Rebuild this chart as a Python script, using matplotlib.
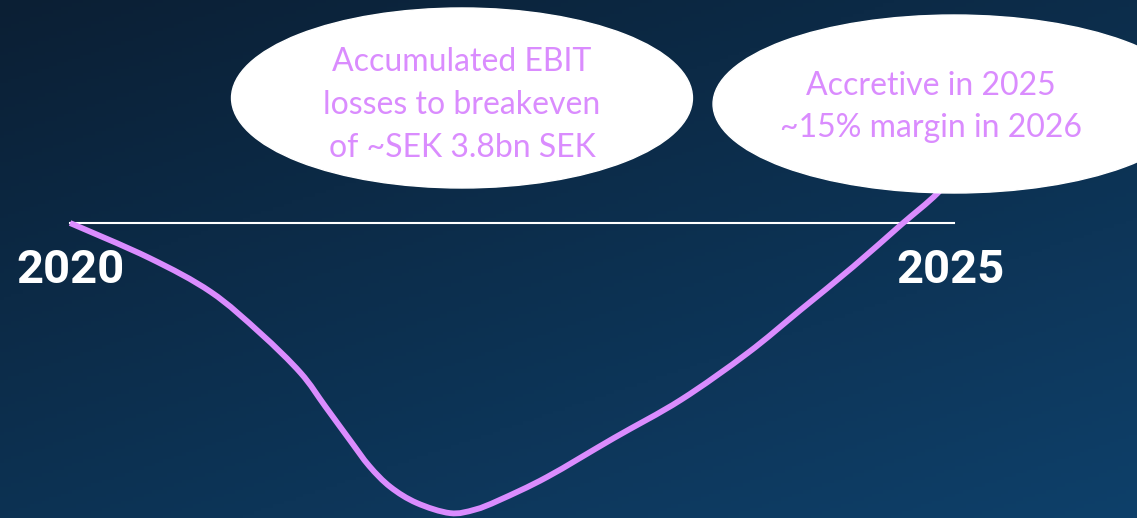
import matplotlib.pyplot as plt
import numpy as np
from matplotlib.patches import Ellipse, PathPatch
from matplotlib.path import Path

# EBIT path (years, arbitrary units, 0 = breakeven)
years = [2020.00, 2020.45, 2020.80, 2021.08, 2021.31, 2021.45, 2021.59, 2021.70,
         2021.82, 2021.97, 2022.16, 2022.30, 2022.44, 2022.71, 2023.09, 2023.47,
         2023.85, 2024.15, 2024.45, 2024.72, 2024.93, 2025.09]
ebit = [0.0, -1.20, -2.37, -3.78, -5.15, -6.30, -7.46, -8.35,
        -9.07, -9.62, -9.97, -9.85, -9.52, -8.73, -7.39, -6.08,
        -4.47, -2.99, -1.50, -0.07, 1.03, 2.16]

tick_years = [2020, 2025]
tick_labels = ["2020", "2025"]

note_left = "Accumulated EBIT\nlosses to breakeven\nof ~SEK 3.8bn SEK"
note_right = "Accretive in 2025\n~15% margin in 2026"

purple = "#DA8CFE"


def smooth_path(xs, ys):
    # cubic bezier segments through the points (catmull-rom tangents)
    p = np.column_stack([xs, ys])
    verts = [p[0]]
    codes = [Path.MOVETO]
    for i in range(len(p) - 1):
        p0 = p[i - 1] if i > 0 else p[i]
        p3 = p[i + 2] if i + 2 < len(p) else p[i + 1]
        c1 = p[i] + (p[i + 1] - p0) / 6
        c2 = p[i + 1] - (p3 - p[i]) / 6
        verts += [c1, c2, p[i + 1]]
        codes += [Path.CURVE4] * 3
    return Path(verts, codes)


fig = plt.figure(figsize=(11.37, 5.18), dpi=100)
ax = fig.add_axes([0, 0, 1, 1])
xmin, xmax = 2019.602, 2026.0625
ymin, ymax = -10.137, 7.663
ax.set_xlim(xmin, xmax)
ax.set_ylim(ymin, ymax)
ax.axis("off")

# background gradient, dark navy top-left to lighter blue bottom-right
gx, gy = np.meshgrid(np.linspace(0, 1, 300), np.linspace(0, 1, 150))
t = np.clip(0.55 * gx + 0.75 * gy, 0, 1.3) / 1.3
c0 = np.array([11, 31, 52]) / 255
c1 = np.array([14, 64, 106]) / 255
bg = c0 + (c1 - c0) * t[..., None]
ax.imshow(bg, extent=[xmin, xmax, ymin, ymax], origin="upper",
          aspect="auto", zorder=0)

# breakeven line
ax.plot([2020, 2025.02], [0, 0], color="white", lw=1.5, zorder=1)

# EBIT curve
ax.add_patch(PathPatch(smooth_path(years, ebit), facecolor="none",
                       edgecolor=purple, lw=4.2, capstyle="butt",
                       joinstyle="round", zorder=2))

# callout ellipses
ax.add_patch(Ellipse((2022.227, 4.296), 2.619, 6.186, color="white", zorder=3))
ax.add_patch(Ellipse((2025.023, 4.089), 2.739, 6.117, color="white", zorder=3))

ax.text(2022.227, 4.05, note_left, ha="center", va="center", color=purple,
        fontsize=23, family="Lato", linespacing=1.55, zorder=4)
ax.text(2024.89, 4.0, note_right, ha="center", va="center", color=purple,
        fontsize=23, family="Lato", linespacing=1.5, zorder=4)

for yr, lab in zip(tick_years, tick_labels):
    ax.text(yr, -1.62, lab, ha="center", va="center", color="white",
            fontsize=34, family="Roboto", fontweight="bold", zorder=4)

fig.savefig("out.png", dpi=100)
